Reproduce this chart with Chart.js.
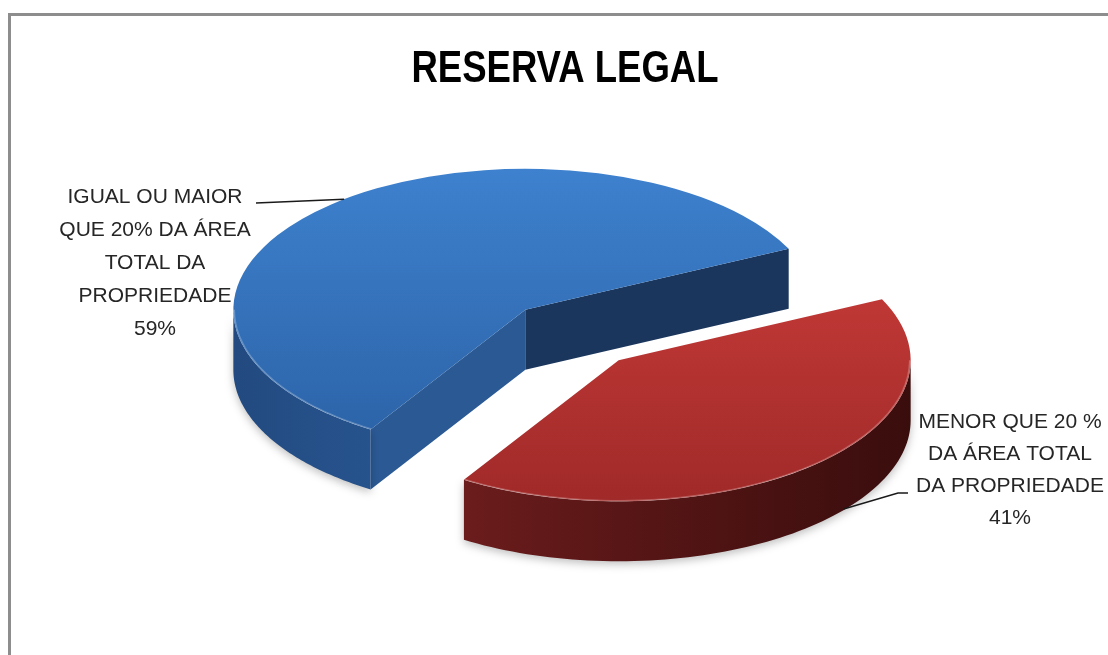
<!DOCTYPE html>
<html>
<head>
<meta charset="utf-8">
<title>Reserva Legal</title>
<script src="https://cdn.jsdelivr.net/npm/chart.js@4.4.1/dist/chart.umd.min.js"></script>
<style>
  html, body { margin: 0; padding: 0; background: #fff; overflow: hidden; }
  #wrap { position: relative; width: 1108px; height: 655px; }
  #frame { position: absolute; left: 8px; top: 13px; width: 1300px; height: 900px;
           border-top: 3px solid #8d8d8d; border-left: 3px solid #8d8d8d; }
  canvas { position: absolute; left: 0; top: 0; }
</style>
</head>
<body>
<div id="wrap">
  <div id="frame"></div>
  <canvas id="pie" width="1108" height="655"></canvas>
</div>
<script>
'use strict';

// data
const chartTitle = 'RESERVA LEGAL';
const categories = [
  ['IGUAL OU MAIOR', 'QUE 20% DA ÁREA', 'TOTAL DA', 'PROPRIEDADE'],
  ['MENOR QUE 20 %', 'DA ÁREA TOTAL', 'DA PROPRIEDADE']
];
const shares = [59, 41];

// look
const topColors  = [['#3e81ce', '#2b62a6'], ['#cb3d3a', '#a02a29']];
const wallColors = [['#224a80', '#2b5b99', '#2f63a5'], ['#7c2222', '#5c1717', '#3a0d0d']];
const cutColors  = [['#2b5994', '#1b365c'], ['#5c1717', '#5c1717']];

const TILT = 0.483;     // vertical squash of the pie
const DEPTH = 60;       // wall height in px
const EXPLODE = 70;     // slice pull-out
const CY = 335;         // screen y of the pie centre
const RADIUS = 292;

// where the label blocks sit
const labelPos = [
  { x: 155, y: 197, lh: 33, from: [256, 203], elbow: null, shift: 0.06, dz: 0 },
  { x: 1010, y: 422, lh: 32, from: [908, 493], elbow: [898, 493], shift: -0.15, dz: 0.98 }
];

function sliceGeom(arc) {
  const p = arc.getProps(['x', 'y', 'startAngle', 'endAngle', 'outerRadius']);
  const m = (p.startAngle + p.endAngle) / 2;
  const ox = Math.cos(m) * EXPLODE;
  const oy = Math.sin(m) * EXPLODE;
  const P = (a, rr, dz) => [p.x + ox + rr * Math.cos(a), CY + (oy + rr * Math.sin(a)) * TILT + dz];
  return { p, m, ox, oy, P };
}

function frontSpans(s0, e0) {
  const TAU = Math.PI * 2;
  const s = ((s0 % TAU) + TAU) % TAU;
  const e = s + (e0 - s0);
  const out = [];
  [0, TAU, 2 * TAU].forEach(b => {
    const lo = Math.max(s, b), hi = Math.min(e, b + Math.PI);
    if (hi > lo) out.push([lo, hi]);
  });
  return out;
}

function drawSlice(ctx, arc, i) {
  const { p, ox, oy, P } = sliceGeom(arc);
  const r = p.outerRadius;

  // radial cut faces
  ctx.save();
  [[p.startAngle, -1, 0], [p.endAngle, 1, 1]].forEach(([a, s, k]) => {
    if (Math.sin(a + s * Math.PI / 2) <= 0) return;
    const c = P(a, 0, 0), e = P(a, r, 0);
    ctx.beginPath();
    ctx.moveTo(c[0], c[1]);
    ctx.lineTo(e[0], e[1]);
    ctx.lineTo(e[0], e[1] + DEPTH);
    ctx.lineTo(c[0], c[1] + DEPTH);
    ctx.closePath();
    ctx.fillStyle = cutColors[i][k];
    ctx.fill();
  });
  ctx.restore();

  // outer wall
  const spans = frontSpans(p.startAngle, p.endAngle);
  spans.forEach(([lo, hi]) => {
    const n = 80;
    ctx.save();
    ctx.shadowColor = 'rgba(0,0,0,0.25)';
    ctx.shadowBlur = 8;
    ctx.shadowOffsetY = 3;
    ctx.beginPath();
    for (let k = 0; k <= n; k++) {
      const q = P(lo + (hi - lo) * k / n, r, 0);
      k ? ctx.lineTo(q[0], q[1]) : ctx.moveTo(q[0], q[1]);
    }
    for (let k = n; k >= 0; k--) {
      const q = P(lo + (hi - lo) * k / n, r, DEPTH);
      ctx.lineTo(q[0], q[1]);
    }
    ctx.closePath();
    const g = ctx.createLinearGradient(p.x + ox - r, 0, p.x + ox + r, 0);
    const wc = wallColors[i];
    g.addColorStop(0, wc[0]);
    g.addColorStop(0.45, wc[1]);
    g.addColorStop(1, wc[2]);
    ctx.fillStyle = g;
    ctx.fill();
    ctx.restore();
  });

  // top face, drawn by the arc element itself
  ctx.save();
  ctx.translate(ox, CY);
  ctx.scale(1, TILT);
  ctx.translate(0, oy - p.y);
  arc.draw(ctx);
  ctx.restore();

  // thin bevel highlight on the front rim
  spans.forEach(([lo, hi]) => {
    ctx.save();
    ctx.beginPath();
    for (let k = 0; k <= 60; k++) {
      const q = P(lo + (hi - lo) * k / 60, r - 1, 0);
      k ? ctx.lineTo(q[0], q[1]) : ctx.moveTo(q[0], q[1]);
    }
    ctx.strokeStyle = 'rgba(255,255,255,0.25)';
    ctx.lineWidth = 1.5;
    ctx.stroke();
    ctx.restore();
  });
}

const pie3d = {
  id: 'pie3d',
  beforeDatasetsDraw(chart) {
    const ctx = chart.ctx;
    const arcs = chart.getDatasetMeta(0).data;
    const mid = a => (a.startAngle + a.endAngle) / 2;
    const order = arcs.map((a, i) => i).sort((a, b) => Math.sin(mid(arcs[a])) - Math.sin(mid(arcs[b])));
    order.forEach(i => drawSlice(ctx, arcs[i], i));
    return false;
  },
  afterDraw(chart) {
    const ctx = chart.ctx;
    const arcs = chart.getDatasetMeta(0).data;

    // title, Calibri-like condensed bold
    ctx.save();
    ctx.font = 'bold 44px "Liberation Sans", Arial, sans-serif';
    ctx.fillStyle = '#000';
    ctx.textAlign = 'center';
    ctx.textBaseline = 'alphabetic';
    ctx.translate(565, 82);
    ctx.scale(0.83, 1);
    ctx.fillText(chartTitle, 0, 0);
    ctx.restore();

    ctx.save();
    arcs.forEach((arc, i) => {
      const { m, P } = sliceGeom(arc);
      const lp = labelPos[i];
      const start = P(m + lp.shift, arc.outerRadius, DEPTH * lp.dz);
      ctx.beginPath();
      ctx.moveTo(start[0], start[1]);
      if (lp.elbow) ctx.lineTo(lp.elbow[0], lp.elbow[1]);
      ctx.lineTo(lp.from[0], lp.from[1]);
      ctx.strokeStyle = '#1a1a1a';
      ctx.lineWidth = 1.6;
      ctx.stroke();

      ctx.font = '21px "Liberation Sans", Arial, sans-serif';
      ctx.fillStyle = '#262626';
      ctx.textAlign = 'center';
      ctx.textBaseline = 'middle';
      const lines = categories[i].concat([shares[i] + '%']);
      lines.forEach((t, k) => ctx.fillText(t, lp.x, lp.y + k * lp.lh));
    });
    ctx.restore();
  }
};

new Chart(document.getElementById('pie').getContext('2d'), {
  type: 'pie',
  data: {
    labels: categories.map(c => c.join(' ')),
    datasets: [{
      data: shares,
      borderWidth: 0,
      backgroundColor: c => {
        const ch = c.chart;
        const area = ch.chartArea;
        if (!area) return topColors[c.dataIndex][0];
        const cy = (area.top + area.bottom) / 2;
        const g = ch.ctx.createLinearGradient(0, cy - RADIUS, 0, cy + RADIUS);
        g.addColorStop(0, topColors[c.dataIndex][0]);
        g.addColorStop(1, topColors[c.dataIndex][1]);
        return g;
      }
    }]
  },
  options: {
    responsive: false,
    animation: false,
    events: [],
    rotation: 212,
    radius: RADIUS,
    layout: { padding: { left: 36, right: 0 } },
    plugins: {
      legend: { display: false },
      tooltip: { enabled: false },
      title: { display: false }
    }
  },
  plugins: [pie3d]
});
</script>
</body>
</html>
